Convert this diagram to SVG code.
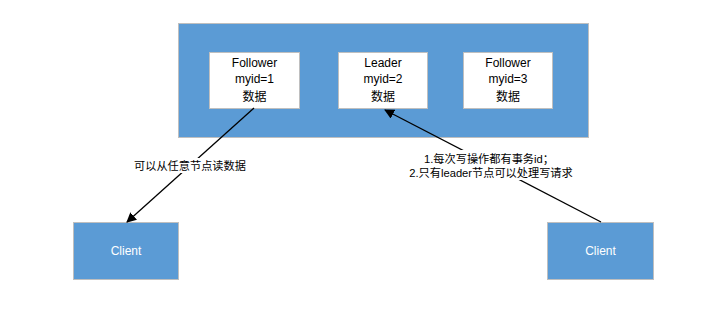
<svg xmlns="http://www.w3.org/2000/svg" width="726" height="311" viewBox="0 0 726 311">
<style>
.blue{fill:#5b9bd5;stroke:#bfbfbf;stroke-width:1}
.white{fill:#ffffff;stroke:#bfbfbf;stroke-width:1}
text{font-family:"Liberation Sans","Noto Sans CJK SC",sans-serif;font-size:12px;text-anchor:middle}
.lbl{font-size:11.2px}
.dark{fill:#000}
.light{fill:#fff}
.conn{stroke:#000;stroke-width:1.3;fill:none}
</style>
<defs>
<marker id="arr" markerWidth="10" markerHeight="10" refX="9" refY="5" orient="auto" markerUnits="userSpaceOnUse">
<path d="M0,0 L10,5 L0,10 z" fill="#000"/>
</marker>
</defs>
<rect width="726" height="311" fill="#fff"/>
<g id="cluster">
<rect class="blue" x="178.5" y="23.5" width="410" height="114"/>
</g>
<g id="follower1">
<rect class="white" x="209.5" y="52.5" width="90" height="56"/>
<text class="dark" x="254.5" y="67">Follower</text>
<text class="dark" x="254.5" y="83">myid=1</text>
<text class="dark" x="254.5" y="101">数据</text>
</g>
<g id="leader">
<rect class="white" x="338.5" y="52.5" width="89" height="56"/>
<text class="dark" x="383" y="67">Leader</text>
<text class="dark" x="383" y="83">myid=2</text>
<text class="dark" x="383" y="101">数据</text>
</g>
<g id="follower3">
<rect class="white" x="463.5" y="52.5" width="89" height="56"/>
<text class="dark" x="508" y="67">Follower</text>
<text class="dark" x="508" y="83">myid=3</text>
<text class="dark" x="508" y="101">数据</text>
</g>
<g id="client1">
<rect class="blue" x="73.5" y="222.5" width="105" height="57"/>
<text class="light" x="126" y="255">Client</text>
</g>
<g id="client2">
<rect class="blue" x="547.5" y="222.5" width="106" height="57"/>
<text class="light" x="600.5" y="255">Client</text>
</g>
<g id="connectors">
<line class="conn" x1="254" y1="108" x2="127" y2="222" marker-end="url(#arr)"/>
<line class="conn" x1="601" y1="222" x2="385" y2="110" marker-end="url(#arr)"/>
<rect x="134" y="158" width="112" height="15" fill="#fff"/>
<text class="dark lbl" x="190" y="170">可以从任意节点读数据</text>
<rect x="412" y="150" width="160" height="30" fill="#fff"/>
<text class="dark lbl" x="489" y="163">1.每次写操作都有事务id；</text>
<text class="dark lbl" x="491" y="177">2.只有leader节点可以处理写请求</text>
</g>
</svg>
